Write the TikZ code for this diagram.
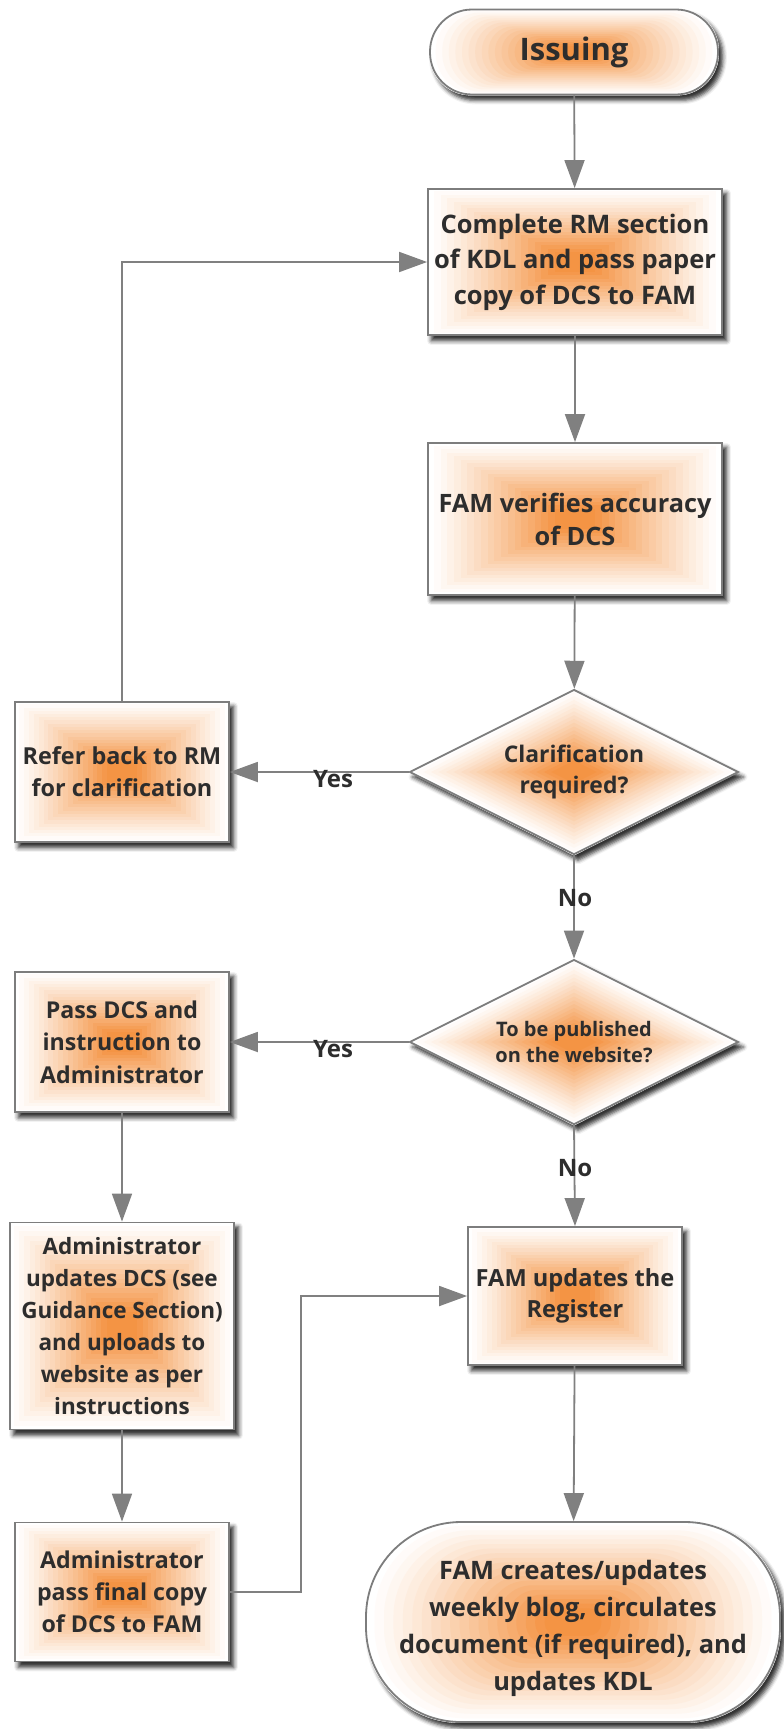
\documentclass[tikz,border=0pt]{standalone}
\usepackage{fontspec}
\setmainfont{Open Sans}
\usetikzlibrary{arrows.meta,shapes.geometric,shadows.blur,calc,backgrounds}
\definecolor{oc}{RGB}{244,148,68}
\definecolor{bordergray}{RGB}{125,125,125}
\definecolor{linegray}{RGB}{128,128,128}
\definecolor{textc}{RGB}{45,45,45}
\newcommand{\fs}[2]{\fontsize{#1pt}{#2pt}\selectfont\bfseries}
\tikzset{
  shp/.style={draw=bordergray, line width=1.8pt, text=textc, align=center, inner sep=0pt},
  rbox/.style={shp, rectangle, minimum width=#1},
  dia/.style={shp, diamond, aspect=2, minimum width=329pt, minimum height=165pt},
  conn/.style={draw=linegray, line width=1.8pt, -{Triangle[length=28pt,width=20pt]}},
  lbl/.style={text=textc, font=\fs{24}{28}, inner sep=0pt},
  shd/.style={blur shadow={shadow xshift=4pt, shadow yshift=-5pt, shadow blur radius=4pt, shadow opacity=80}}
}
\newcommand{\gcol}[1]{\pgfmathsetmacro\p{min(100,100*(#1/0.85)^1.15)}}
\newcommand{\rectgrad}[1]{%
  \path[shd, fill=white] (#1.south west) rectangle (#1.north east);
  \foreach \i in {0,...,21}{%
    \pgfmathsetmacro\f{\i/22}\gcol{\f}%
    \fill[oc!\p!white] ($(#1.south west)!\f!(#1.center)$) rectangle ($(#1.north east)!\f!(#1.center)$);}}
\newcommand{\diagrad}[1]{%
  \path[shd, fill=white] (#1.north) -- (#1.east) -- (#1.south) -- (#1.west) -- cycle;
  \foreach \i in {0,...,21}{%
    \pgfmathsetmacro\f{\i/22}\gcol{\f}%
    \fill[oc!\p!white] ($(#1.north)!\f!(#1.center)$) -- ($(#1.east)!\f!(#1.center)$) -- ($(#1.south)!\f!(#1.center)$) -- ($(#1.west)!\f!(#1.center)$) -- cycle;}}
\newcommand{\stadgrad}[2]{%
  \path[shd, fill=white, rounded corners=#2pt] (#1.south west) rectangle (#1.north east);
  \foreach \i in {0,...,21}{%
    \pgfmathsetmacro\f{\i/22}\gcol{\f}\pgfmathsetmacro\r{(1-\f)*#2}%
    \fill[oc!\p!white, rounded corners=\r pt] ($(#1.south west)!\f!(#1.center)$) rectangle ($(#1.north east)!\f!(#1.center)$);}}
\begin{document}
\begin{tikzpicture}[x=1pt,y=-1pt]
\useasboundingbox (0,0) rectangle (784,1729);
% nodes
\node[shp, rounded corners=42pt, minimum width=288pt, minimum height=85pt, font=\fs{31}{36}] (issuing) at (574,52) {Issuing};
\node[rbox=294pt, minimum height=146pt, font=\fs{25.5}{35.5}] (complete) at (575,262) {Complete RM section\\of KDL and pass paper\\copy of DCS to FAM};
\node[rbox=294pt, minimum height=152pt, font=\fs{25.3}{33}] (verify) at (575,519) {FAM verifies accuracy\\of DCS};
\node[dia, font=\fs{22.9}{31}] (clar) at (574,772) {Clarification\\required?};
\node[rbox=214pt, minimum height=140pt, font=\fs{23.4}{32}] (refer) at (122,772) {Refer back to RM\\for clarification};
\node[dia, font=\fs{20}{26}] (publ) at (574,1042) {To be published\\on the website?};
\node[rbox=214pt, minimum height=140pt, font=\fs{23.2}{32.5}] (pass) at (122,1042) {Pass DCS and\\instruction to\\Administrator};
\node[rbox=224pt, minimum height=207pt, font=\fs{22.5}{32}] (admup) at (122,1326) {Administrator\\updates DCS (see\\Guidance Section)\\and uploads to\\website as per\\instructions};
\node[rbox=214pt, minimum height=138pt, font=\fs{23.6}{31.5}] (famreg) at (575,1296) {FAM updates the\\Register};
\node[rbox=214pt, minimum height=139pt, font=\fs{23.2}{32}] (admpass) at (122,1592) {Administrator\\pass final copy\\of DCS to FAM};
\node[shp, rounded corners=95pt, minimum width=414pt, minimum height=200pt, font=\fs{25.4}{37}] (final) at (573,1622) {\rule{0pt}{33pt}FAM creates/updates\\weekly blog, circulates\\document (if required), and\\updates KDL};
% backgrounds
\begin{scope}[on background layer]
\stadgrad{issuing}{42}
\rectgrad{complete}
\rectgrad{verify}
\diagrad{clar}
\rectgrad{refer}
\diagrad{publ}
\rectgrad{pass}
\rectgrad{admup}
\rectgrad{famreg}
\rectgrad{admpass}
\stadgrad{final}{95}
\end{scope}
% connectors
\draw[conn] (issuing) -- (complete);
\draw[conn] (complete) -- (verify);
\draw[conn] (verify) -- (clar);
\draw[conn] (clar.west) -- (refer.east);
\draw[conn] (refer.north) |- (complete.west);
\draw[conn] (clar.south) -- (publ.north);
\draw[conn] (publ.west) -- (pass.east);
\draw[conn] (publ.south) -- (famreg.north);
\draw[conn] (pass) -- (admup);
\draw[conn] (admup) -- (admpass);
\coordinate (bend) at (301,1592);
\draw[conn] (admpass.east) -- (bend) |- (famreg.west);
\draw[conn] (famreg) -- (final);
% labels
\node[lbl] (yes1) at (333,779) {Yes};
\node[lbl] (yes2) at (333,1049) {Yes};
\node[lbl] (no1) at (575,898) {No};
\node[lbl] (no2) at (575,1168) {No};
\end{tikzpicture}
\end{document}
